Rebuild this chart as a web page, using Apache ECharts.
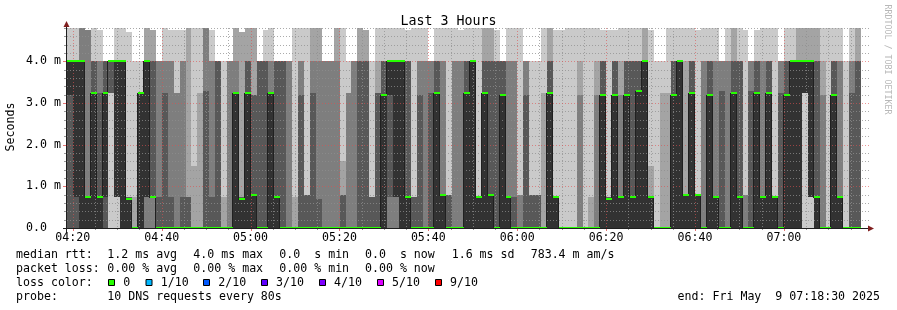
<!DOCTYPE html>
<html><head><meta charset="utf-8">
<script src="https://cdn.jsdelivr.net/npm/echarts@6/dist/echarts.min.js"></script>
<style>html,body{margin:0;padding:0;background:#fff}#c{width:897px;height:310px}</style>
</head><body><div id="c"></div>
<script>
// ---- time axis (minutes since midnight) ----
const START = 258.7;          // 04:18:42
const END = 438.7;            // 3 hours later
const STEP = 80 / 60;         // one probe round every 80 s
const xTickValues = [260, 280, 300, 320, 340, 360, 380, 400, 420];
const xTickLabels = ['04:20', '04:40', '05:00', '05:20', '05:40', '06:00', '06:20', '06:40', '07:00'];
const yTickValues = [0, 1, 2, 3, 4];
const yTickLabels = ['0.0  ', '1.0 m', '2.0 m', '3.0 m', '4.0 m'];

// ---- median rtt per probe round (ms) ----
const medianMs = [
  4, 4, 4, 0.75, 3.25, 0.75, 3.25, 4, 4, 4,
  0.7, 0, 3.25, 4, 0.75, 0, 0, 0, 0, 0,
  0, 0, 0, 0, 0, 0, 0, 0, 3.25, 0.7,
  3.25, 0.8, 0, 0, 3.25, 0.75, 0, 0, 0, 0,
  0, 0, 0, 0, 0, 0, 0, 0, 0, 0,
  0, 0, 0, 3.2, 4, 4, 4, 0.75, 0, 0,
  0, 0, 3.25, 0.8, 0, 0, 0, 3.25, 4, 0.75,
  3.25, 0.8, 0, 3.2, 0.75, 0, 0, 0, 0, 0,
  0, 3.25, 0.75, 0, 0, 0, 0, 0, 0, 0,
  3.2, 0.7, 3.2, 0.75, 3.2, 0.75, 3.3, 4, 0.75, 0,
  0, 0, 3.2, 4, 0.8, 3.25, 0.8, 0, 3.2, 0.75,
  0, 0, 3.25, 0.75, 0, 0, 3.25, 0.75, 3.25, 0.75,
  0, 3.2, 4, 4, 4, 4, 0.75, 0, 0, 3.2,
  0.75, 0, 0, 0
];

// ---- the 10 sorted reply times of each probe round (ms) ----
const pings = [
  [0,0,0,0,3.2,4,4,4,4,4.8],
  [0,0,0,0,0.75,4,4,4,4,4.8],
  [0,0,0,0,0,4,4,4.8,4.8,4.8],
  [0,0,0,0,0,0.75,0.75,4.75,4.75,4.75],
  [0,0,0,0,0,3.25,4,4,4,4.8],
  [0,0,0,0,0,0.75,3.25,4,4,4.75],
  [0,0,0,0,0.75,3.25,4,4,4,4],
  [0,3.25,3.25,3.25,4,4,4,4,4,4],
  [0,0.75,0.75,0.75,0.75,4,4,4,4,4.8],
  [0,0,0,0,0,4,4,4,4,4.8],
  [0,0,0,0,0,0.7,0.75,0.75,0.75,4.7],
  [0,0,0,0,0,0,0,0,0.75,4],
  [0,0,0,0,0,3.25,3.25,3.25,3.25,4],
  [0,0,0,0.75,0.75,4,4,4,4.8,4.8],
  [0,0,0,0.75,0.75,0.75,4,4,4.75,4.75],
  [0,0,0,0,0,0,0.75,4,4,4],
  [0,0,0,0,0,0,3.25,4,4,4.8],
  [0,0,0,0,0,0,0.75,4,4,4.75],
  [0,0,0,0,0,0,0,3.25,3.25,4.75],
  [0,0,0,0,0,0,0.75,4,4,4.75],
  [0,0,0,0,0,0,0.75,0.75,4.8,4.8],
  [0,0,0,0,0,0,0,0,1.5,4.8],
  [0,0,0,0,0,0,0,0,3.25,4.8],
  [0,0,0,0,0,0,3.3,4.8,4.8,4.8],
  [0,0,0,0,0,0,0.75,4,4,4.75],
  [0,0,0,0,0,0,4,4,4,4],
  [0,0,0,0,0,0,0,0,0.75,4],
  [0,0,0,0,0,0,0,4,4,4],
  [0,0,0,0,0,3.25,3.25,4,4.8,4.8],
  [0,0,0,0,0,0.7,0.75,0.75,4.7,4.7],
  [0,0,0,0,0,3.25,4,4,4.8,4.8],
  [0,0,0,0,0,0.8,3.2,3.2,4.8,4.8],
  [0,0,0,0,0,0,4,4,4,4],
  [0,0,0,0,0,0,4,4,4,4.75],
  [0,0,0,0,0,3.25,3.25,4,4,4.8],
  [0,0,0,0,0,0.75,4,4,4,4],
  [0,0,0,0,0,0,4,4,4,4],
  [0,0,0,0,0,0,0,4,4,4],
  [0,0,0,0,0,0,0,0,0.75,4.8],
  [0,0,0,0,0,0,3.2,4,4,4.8],
  [0,0,0,0,0,0,0.8,0.8,0.8,4.8],
  [0,0,0,0,0,0,3.25,4,4.8,4.8],
  [0,0,0,0,0,0,0.7,4,4.8,4.8],
  [0,0,0,0,0,0,0,4,4,4],
  [0,0,0,0,0,0,0,4,4,4],
  [0,0,0,0,0,0,0,4,4.8,4.8],
  [0,0,0,0,0,0,0.8,0.8,1.6,4.8],
  [0,0,0,0,0,0,0,3.25,3.25,4],
  [0,0,0,0,0,0,0,4,4,4],
  [0,0,0,0,0,0,4,4,4.8,4.8],
  [0,0,0,0,0,0,4,4,4.75,4.75],
  [0,0,0,0,0,0,0.75,0.75,0.75,4],
  [0,0,0,0,0,0,3.25,3.25,4,4.8],
  [0,0,0,0,0,3.2,4,4,4,4.8],
  [0,0,0,0.75,3.2,4,4,4,4,4.8],
  [0,0,0,0.75,0.75,4,4,4,4,4.8],
  [0,0,0,0,0,4,4,4,4,4.8],
  [0,0,0,0,0,0.75,4,4,4,4.75],
  [0,0,0,0,0,0,0.75,0.75,0.75,4.8],
  [0,0,0,0,0,0,3.2,4,4,4.8],
  [0,0,0,0,0,0,0,4,4,4.8],
  [0,0,0,0,0,0,3.25,4,4,4],
  [0,0,0,0,0,3.25,4,4,4,4.8],
  [0,0,0,0,0,0.8,0.8,4,4,4.8],
  [0,0,0,0,0,0,0.8,0.8,0.8,4.8],
  [0,0,0,0,0,0,0,4,4,4.8],
  [0,0,0,0,0,0,0,4,4,4.75],
  [0,0,0,0,0,3.25,4,4,4,4.8],
  [0,0,0,0,0,4,4,4,4,4.8],
  [0,0,0,0,0,0.75,0.75,0.75,0.75,4.8],
  [0,0,0,0,0,3.25,4,4,4.8,4.8],
  [0,0,0,0,0,0.8,4,4,4.8,4.8],
  [0,0,0,0,0,0,4,4,4,4.75],
  [0,0,0,0,0,3.2,4,4,4,4],
  [0,0,0,0,0,0.75,0.75,4,4,4.8],
  [0,0,0,0,0,0,0.75,4,4,4.8],
  [0,0,0,0,0,0,0,0.8,0.8,4.8],
  [0,0,0,0,0,0,3.2,4,4,4],
  [0,0,0,0,0,0,0.8,0.8,0.8,4],
  [0,0,0,0,0,0,0.8,0.8,0.8,4],
  [0,0,0,0,0,0,0,0,3.25,4.8],
  [0,0,0,0,0,3.25,4,4,4.8,4.8],
  [0,0,0,0,0,0.75,0.75,0.75,0.75,4.75],
  [0,0,0,0,0,0,0,0,0,4.75],
  [0,0,0,0,0,0,0,0,0,4.8],
  [0,0,0,0,0,0,0,0,0,4.8],
  [0,0,0,0,0,0,0,3.2,4,4.8],
  [0,0,0,0,0,0,0,0,0,4.8],
  [0,0,0,0,0,0,0,0,0.75,4.8],
  [0,0,0,0,0,0,0,3.2,4,4.8],
  [0,0,0,0,0,3.2,4,4,4,4.75],
  [0,0,0,0,0,0.7,0.75,0.75,0.75,4.75],
  [0,0,0,0,0,3.2,4,4,4,4.75],
  [0,0,0,0,0,0.75,0.75,3.2,4,4.8],
  [0,0,0,0,0,3.2,4,4,4,4.8],
  [0,0,0,0,0,0.75,4,4,4,4.8],
  [0,0,0,0,0,3.3,4,4,4,4.8],
  [0,0,0,0,0,4,4,4,4.8,4.8],
  [0,0,0,0,0,0.75,0.75,0.75,1.5,4.75],
  [0,0,0,0,0,0,0,0,0,4],
  [0,0,0,0,0,0,0,0,3.25,4],
  [0,0,0,0,0,0,0,0,3.25,4.8],
  [0,0,0,0,0,3.2,4,4,4,4.8],
  [0,0,0,0,0,4,4,4,4,4.8],
  [0,0,0,0,0,0.8,0.8,0.8,4,4.8],
  [0,0,0,0,0,3.25,4,4,4,4.8],
  [0,0,0,0,0,0.8,0.8,0.8,0.8,4.75],
  [0,0,0,0,0,0,0,4,4,4.8],
  [0,0,0,0,0,3.2,4,4,4,4.8],
  [0,0,0,0,0,0.75,0.75,4,4,4.8],
  [0,0,0,0,0,0,3.3,4,4,4],
  [0,0,0,0,0,0,0,4,4,4.8],
  [0,0,0,0,0,3.25,4,4,4.8,4.8],
  [0,0,0,0,0,0.75,4,4,4,4.8],
  [0,0,0,0,0,0,0,0.8,0.8,4.75],
  [0,0,0,0,0,0,3.3,4,4,4],
  [0,0,0,0,0,3.25,4,4,4,4.75],
  [0,0,0,0,0,0.75,0.75,4,4,4.8],
  [0,0,0,0,0,3.25,4,4,4,4.8],
  [0,0,0,0,0,0.75,0.75,0.75,0.75,4.8],
  [0,0,0,0,0,0,3.25,4,4,4],
  [0,0,0,0,0,3.2,4,4,4,4.8],
  [0,0,0,0,0,4,4,4,4,4.8],
  [0,0,0,0,0,4,4,4,4.8,4.8],
  [0,3.25,3.25,3.25,3.25,4,4,4,4.8,4.8],
  [0,0.75,0.75,0.75,0.75,4,4,4,4.8,4.8],
  [0,0,0,0,0,0.75,4,4,4.8,4.8],
  [0,0,0,0,0,0,0,3.2,4,4.8],
  [0,0,0,0,0,0,0,0,0,4.8],
  [0,0,0,0,0,3.2,4,4,4,4.8],
  [0,0,0,0,0,0.75,0.75,4,4,4.8],
  [0,0,0,0,0,0,0,0,0,4],
  [0,0,0,0,0,0,3.25,4,4,4.8],
  [0,0,0,0,0,0,4,4,4.8,4.8]
];

// ---- legend texts ----
const statRow1 = [[16,'median rtt:'],[107.3,'1.2 ms avg'],[193.3,'4.0 ms max'],[279.3,'0.0  s min'],[365,'0.0  s now'],[451.7,'1.6 ms sd'],[530.7,'783.4 m am/s']];
const statRow2 = [[16,'packet loss:'],[107.3,'0.00 % avg'],[193.3,'0.00 % max'],[279.3,'0.00 % min'],[365,'0.00 % now']];
const lossLabels = ['0','1/10','2/10','3/10','4/10','5/10','9/10'];
const lossColors = ['#26ff00','#00b8ff','#0059ff','#5e00ff','#7e00ff','#dd00ff','#ff0000'];
const lossBoxX = [108.5,146,203.5,261.5,319.5,377.5,435.5];
const lossTextX = [123.3,160.7,218.3,276,334,392,450];

const SMOKE_COLORS = ['#cacaca','#a4a4a4','#7e7e7e','#585858','#323232'];
const FONT = '"DejaVu Sans Mono", monospace';

const smokeData = pings.map((p, k) => { const t0 = START + k * STEP; return [t0, t0 + STEP].concat(p); });
const medData = medianMs.map((m, k) => { const t0 = START + k * STEP; return [t0, t0 + STEP, m, k + 1 < medianMs.length ? medianMs[k + 1] : m]; });

// grid line values
const gridData = [];
for (let t = 260; t < END; t += 5) gridData.push([t, 0, 1, t % 20 === 0 ? 1 : 0]);
for (let i = 1; i <= 24; i++) gridData.push([START, i / 5, 0, i % 5 === 0 ? 1 : 0]);

function renderSmoke(params, api) {
  const t0 = api.value(0), t1 = api.value(1);
  const xa = Math.round(api.coord([t0, 0])[0]);
  const xb = Math.round(api.coord([t1, 0])[0]);
  const ch = [];
  for (let i = 0; i < 5; i++) {
    const lo = api.value(2 + i), hi = api.value(11 - i);
    const ya = Math.round(api.coord([t0, hi])[1]);
    const yb = Math.round(api.coord([t0, lo])[1]);
    if (yb > ya) ch.push({ type: 'rect', shape: { x: xa, y: ya, width: xb - xa, height: yb - ya }, style: { fill: SMOKE_COLORS[i] } });
  }
  return { type: 'group', children: ch };
}

function renderMedian(params, api) {
  const t0 = api.value(0), t1 = api.value(1), m = api.value(2), mn = api.value(3);
  const xa = Math.round(api.coord([t0, 0])[0]);
  const xb = Math.round(api.coord([t1, 0])[0]);
  const y = Math.round(api.coord([t0, m])[1]);
  const yn = Math.round(api.coord([t0, mn])[1]);
  const ch = [];
  ch.push({ type: 'rect', shape: { x: xa, y: y, width: xb - xa, height: 1 }, style: { fill: '#202020' } });
  if (params.dataIndex < medianMs.length - 1 && yn !== y) {
    ch.push({ type: 'rect', shape: { x: xb - 1, y: Math.min(y, yn), width: 1, height: Math.abs(yn - y) + 1 }, style: { fill: '#202020' } });
  }
  ch.push({ type: 'rect', shape: { x: xa, y: y - 1, width: xb - xa, height: 2 }, style: { fill: lossColors[0] } });
  return { type: 'group', children: ch };
}

function renderGrid(params, api) {
  const cs = params.coordSys;
  const vertical = api.value(2) === 1, major = api.value(3) === 1;
  const color = major ? 'rgba(222,80,80,0.6)' : 'rgba(143,143,143,0.75)';
  let shape;
  if (vertical) {
    const x = Math.round(api.coord([api.value(0), 0])[0]) + 0.5;
    shape = { x1: x, y1: Math.round(cs.y), x2: x, y2: Math.round(cs.y + cs.height) };
  } else {
    const y = Math.round(api.coord([START, api.value(1)])[1]) + 0.5;
    shape = { x1: Math.round(cs.x), y1: y, x2: Math.round(cs.x + cs.width) + 2, y2: y };
  }
  return { type: 'line', shape: shape, style: { stroke: color, lineWidth: 1, lineDash: [1, 2] } };
}

function renderFrame(params, api) {
  const cs = params.coordSys;
  const x0 = Math.round(cs.x), x1 = Math.round(cs.x + cs.width);
  const yB = Math.round(cs.y + cs.height), yT = Math.round(cs.y);
  const ch = [];
  for (let t = 260; t < END; t += 5) {
    const x = Math.round(api.coord([t, 0])[0]) + 0.5;
    const maj = t % 20 === 0;
    ch.push({ type: 'line', shape: { x1: x, y1: yB, x2: x, y2: yB + (maj ? 3 : 2) }, style: { stroke: maj ? 'rgba(222,80,80,0.8)' : 'rgba(143,143,143,0.9)', lineWidth: 1 } });
  }
  for (let i = 1; i <= 24; i++) {
    const y = Math.round(api.coord([START, i / 5])[1]) + 0.5;
    const maj = i % 5 === 0;
    ch.push({ type: 'line', shape: { x1: x0 - (maj ? 4 : 3), y1: y, x2: x0 - 1, y2: y }, style: { stroke: maj ? 'rgba(222,80,80,0.8)' : 'rgba(143,143,143,0.9)', lineWidth: 1 } });
  }
  ch.push({ type: 'line', shape: { x1: x0 - 4, y1: yB + 0.5, x2: x1 + 2, y2: yB + 0.5 }, style: { stroke: '#1f1f1f', lineWidth: 1 } });
  ch.push({ type: 'polygon', shape: { points: [[x1 + 1, yB - 2.5], [x1 + 7, yB + 0.5], [x1 + 1, yB + 3.5]] }, style: { fill: '#801f1f' } });
  ch.push({ type: 'line', shape: { x1: x0 - 0.5, y1: yB + 4, x2: x0 - 0.5, y2: yT - 2 }, style: { stroke: '#1f1f1f', lineWidth: 1 } });
  ch.push({ type: 'polygon', shape: { points: [[x0 - 3.5, yT - 1], [x0 - 0.5, yT - 7], [x0 + 2.5, yT - 1]] }, style: { fill: '#801f1f' } });
  return { type: 'group', children: ch };
}

const graphics = [];
function txt(x, y, s, extra) {
  graphics.push({ type: 'text', x: x, y: y, silent: true,
    style: Object.assign({ text: s, font: '11.6px ' + FONT, fill: '#000', verticalAlign: 'middle' }, extra || {}) });
}
const ROW = [255.2, 269.2, 283.2, 297.2];
statRow1.forEach(([x, s]) => txt(x, ROW[0], s));
statRow2.forEach(([x, s]) => txt(x, ROW[1], s));
txt(16, ROW[2], 'loss color:');
lossLabels.forEach((s, i) => {
  graphics.push({ type: 'rect', silent: true, shape: { x: lossBoxX[i], y: 279.5, width: 6, height: 6 }, style: { fill: lossColors[i], stroke: '#000', lineWidth: 1 } });
  txt(lossTextX[i], ROW[2], s);
});
txt(16, ROW[3], 'probe:');
txt(107.3, ROW[3], '10 DNS requests every 80s');
txt(880, ROW[3], 'end: Fri May  9 07:18:30 2025', { align: 'right' });
graphics.push({ type: 'text', x: 11, y: 127, rotation: Math.PI / 2, silent: true,
  style: { text: 'Seconds', font: '11.6px ' + FONT, fill: '#000', align: 'center', verticalAlign: 'middle' } });
graphics.push({ type: 'text', x: 887.5, y: 59.5, rotation: -Math.PI / 2, silent: true,
  style: { text: 'RRDTOOL / TOBI OETIKER', font: '8.3px ' + FONT, fill: '#b8b8b8', align: 'center', verticalAlign: 'middle' } });

const chart = echarts.init(document.getElementById('c'), null, { renderer: 'canvas' });
chart.setOption({
  animation: false,
  backgroundColor: '#fff',
  title: { text: 'Last 3 Hours', left: 'center', top: 10, textStyle: { fontFamily: FONT, fontSize: 13.3, fontWeight: 'normal', color: '#000' } },
  grid: { left: 67, top: 28, width: 800, height: 200, containLabel: false },
  xAxis: {
    type: 'value', min: START, max: END,
    axisLine: { show: false }, axisTick: { show: false }, splitLine: { show: false },
    axisLabel: { customValues: xTickValues, margin: 4, color: '#000', fontFamily: FONT, fontSize: 11.6,
      formatter: v => xTickLabels[xTickValues.indexOf(Math.round(v))] || '' }
  },
  yAxis: {
    type: 'value', min: 0, max: 4.8,
    axisLine: { show: false }, axisTick: { show: false }, splitLine: { show: false },
    axisLabel: { customValues: yTickValues, margin: 6, color: '#000', fontFamily: FONT, fontSize: 11.6,
      formatter: v => yTickLabels[yTickValues.indexOf(Math.round(v))] || '' }
  },
  series: [
    { type: 'custom', name: 'smoke', renderItem: renderSmoke, data: smokeData, z: 1, silent: true,
      encode: { x: [0, 1], y: [2, 3, 4, 5, 6, 7, 8, 9, 10, 11] } },
    { type: 'custom', name: 'grid', renderItem: renderGrid, data: gridData, z: 2, silent: true,
      encode: { x: 0, y: 1 } },
    { type: 'custom', name: 'median', renderItem: renderMedian, data: medData, z: 3, silent: true,
      encode: { x: [0, 1], y: [2, 3] } },
    { type: 'custom', name: 'frame', renderItem: renderFrame, data: [[START, 0]], z: 4, silent: true,
      encode: { x: 0, y: 1 } }
  ],
  graphic: graphics
});
</script>
</body></html>
